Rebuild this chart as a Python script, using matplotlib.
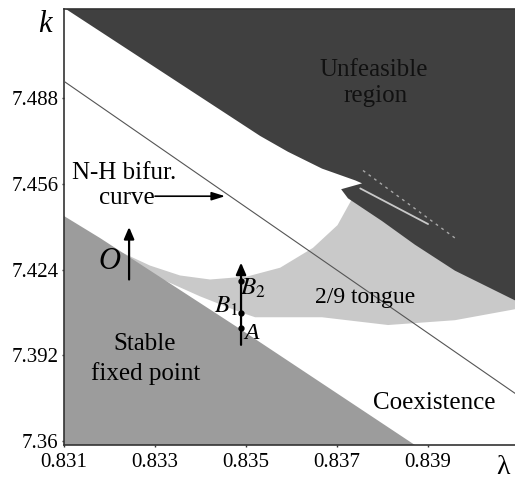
import matplotlib
matplotlib.use("Agg")
import matplotlib.pyplot as plt
from matplotlib.patches import Polygon

plt.rcParams['font.family'] = ['Liberation Serif', 'DejaVu Serif']
plt.rcParams['mathtext.fontset'] = 'stix'

# ---- data (lambda, k) ----
x_ticks = [0.831, 0.833, 0.835, 0.837, 0.839]
x_ticklabels = ["0.831", "0.833", "0.835", "0.837", "0.839"]
y_ticks = [7.36, 7.392, 7.424, 7.456, 7.488]
y_ticklabels = ["7.36", "7.392", "7.424", "7.456", "7.488"]

# stable fixed point region (mid gray)
stable_lam = [0.831, 0.831, 0.83179, 0.83487, 0.83871]
stable_k = [7.3585, 7.4440, 7.4358, 7.4018, 7.3585]

# 2/9 tongue (light gray)
tongue_lam = [0.83228, 0.83289, 0.83355, 0.83421, 0.83502, 0.83575, 0.83647,
              0.83701, 0.83730, 0.83745, 0.83755, 0.83882, 0.84091, 0.84091,
              0.83959, 0.83812, 0.83667, 0.83520, 0.83487, 0.83399, 0.83311,
              0.83228]
tongue_k = [7.4303, 7.4255, 7.4218, 7.4203, 7.4214, 7.4247, 7.4321,
            7.4406, 7.4495, 7.4543, 7.4562, 7.4488, 7.4303, 7.4092,
            7.4051, 7.4033, 7.4062, 7.4062, 7.4081, 7.4140, 7.4207,
            7.4299]

# unfeasible region (dark)
unf_lam = [0.83104, 0.83531, 0.83592, 0.83667, 0.83740, 0.83755, 0.83709,
           0.83724, 0.83799, 0.83871, 0.83959, 0.84091, 0.84091]
unf_k = [7.5213, 7.4739, 7.4680, 7.4617, 7.4573, 7.4562, 7.4540,
         7.4506, 7.4421, 7.4333, 7.4236, 7.4125, 7.5213]

# thin gaps inside the unfeasible region
gap_lam = [0.83751, 0.83900]
gap_k = [7.4543, 7.4410]
streak_lam = [0.83757, 0.83959]
streak_k = [7.4610, 7.4358]

# N-H bifurcation curve
nh_lam = [0.831, 0.84091]
nh_k = [7.4943, 7.3778]

# path through O and through A, B1, B2
o_lam = 0.83243
o_k = [7.4203, 7.4399]
ab_lam = 0.83489
ab_k = [7.3959, 7.4266]
pts_k = [7.4022, 7.4077, 7.4199]  # A, B1, B2

DARK = '#404040'
MID = '#9c9c9c'
LIGHT = '#c9c9c9'

fig = plt.figure(figsize=(5.15, 4.8), dpi=100)
ax = fig.add_axes([64/515, 35/480, (515-64)/515, 436/480])
ax.set_xlim(0.831, 0.84091)
ax.set_ylim(7.3585, 7.5213)

ax.add_patch(Polygon(list(zip(tongue_lam, tongue_k)), closed=True, fc=LIGHT, ec='none', zorder=1))
ax.add_patch(Polygon(list(zip(stable_lam, stable_k)), closed=True, fc=MID, ec='none', zorder=2))
ax.add_patch(Polygon(list(zip(unf_lam, unf_k)), closed=True, fc=DARK, ec='none', zorder=2))
ax.plot(gap_lam, gap_k, color=LIGHT, lw=1.3, zorder=3, solid_capstyle='round')
ax.plot(streak_lam, streak_k, color='#a8a8a8', lw=1.0, ls=(0, (2, 3)), zorder=3)

ax.plot(nh_lam, nh_k, color='#555555', lw=0.8, zorder=4)

arrowprops = dict(arrowstyle='-|>,head_length=0.7,head_width=0.3', color='black', lw=1.6,
                  shrinkA=0, shrinkB=0)
ax.annotate('', xy=(o_lam, o_k[1]), xytext=(o_lam, o_k[0]), arrowprops=arrowprops, zorder=5)
ax.annotate('', xy=(ab_lam, ab_k[1]), xytext=(ab_lam, ab_k[0]), arrowprops=arrowprops, zorder=5)
ax.plot([ab_lam]*3, pts_k, 'o', color='black', ms=3.5, zorder=6)
ax.annotate('', xy=(0.83454, 7.4514), xytext=(0.83300, 7.4514),
            arrowprops=dict(arrowstyle='-|>,head_length=0.8,head_width=0.25', color='black',
                            lw=1.2, shrinkA=0, shrinkB=0), zorder=5)

fs = 18
ax.text(0.83232, 7.4599, 'N-H bifur.', fontsize=fs, ha='center', va='center', zorder=7)
ax.text(0.83300, 7.4506, 'curve', fontsize=fs, ha='right', va='center', zorder=7)
ax.text(0.83781, 7.4987, 'Unfeasible', fontsize=fs, ha='center', va='center', color='#111111', zorder=7)
ax.text(0.83784, 7.4887, 'region', fontsize=fs, ha='center', va='center', color='#111111', zorder=7)
ax.text(0.83278, 7.3963, 'Stable', fontsize=fs, ha='center', va='center', zorder=7)
ax.text(0.83280, 7.3852, 'fixed point', fontsize=fs, ha='center', va='center', zorder=7)
ax.text(0.83762, 7.4136, '2/9 tongue', fontsize=17, ha='center', va='center', zorder=7)
ax.text(0.83913, 7.3741, 'Coexistence', fontsize=fs, ha='center', va='center', zorder=7)
ax.text(0.83201, 7.4270, 'O', fontsize=22, style='italic', ha='center', va='center', zorder=7)
ax.text(0.83516, 7.4170, r'$B_2$', fontsize=18, ha='center', va='center', zorder=7)
ax.text(0.83456, 7.4104, r'$B_1$', fontsize=18, ha='center', va='center', zorder=7)
ax.text(0.83513, 7.4000, 'A', fontsize=17, style='italic', ha='center', va='center', zorder=7)

fig.text(45/515, 1 - 24/480, 'k', fontsize=22, style='italic', ha='center', va='center')
fig.text(503/515, 1 - 468/480, 'λ', fontsize=20, ha='center', va='center')

ax.set_xticks(x_ticks)
ax.set_xticklabels(x_ticklabels)
ax.set_yticks(y_ticks)
ax.set_yticklabels(y_ticklabels)
ax.tick_params(axis='both', labelsize=15, length=1.5, width=1, direction='out', colors='#333333',
               labelcolor='black')
ax.tick_params(axis='x', pad=4.5)
ax.tick_params(axis='y', pad=2.5)
for s in ['left', 'bottom', 'top']:
    ax.spines[s].set_color('#333333')
    ax.spines[s].set_linewidth(1.2)
ax.spines['right'].set_visible(False)

fig.savefig('out.png', dpi=100)
